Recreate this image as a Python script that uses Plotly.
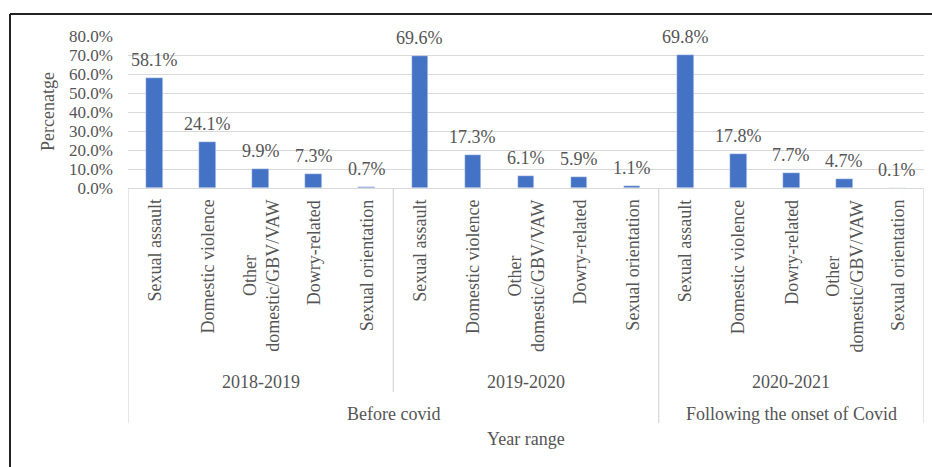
import plotly.graph_objects as go

# ---------------- data ----------------
years = ["2018-2019", "2019-2020", "2020-2021"]
periods = ["Before covid", "Before covid", "Following the onset of Covid"]

categories_2018_2019 = ["Sexual assault", "Domestic violence", "Other<br>domestic/GBV/VAW",
                        "Dowry-related", "Sexual orientation"]
values_2018_2019 = [58.1, 24.1, 9.9, 7.3, 0.7]

categories_2019_2020 = ["Sexual assault", "Domestic violence", "Other<br>domestic/GBV/VAW",
                        "Dowry-related", "Sexual orientation"]
values_2019_2020 = [69.6, 17.3, 6.1, 5.9, 1.1]

categories_2020_2021 = ["Sexual assault", "Domestic violence", "Dowry-related",
                        "Other<br>domestic/GBV/VAW", "Sexual orientation"]
values_2020_2021 = [69.8, 17.8, 7.7, 4.7, 0.1]

y_ticks = [0, 10, 20, 30, 40, 50, 60, 70, 80]
y_title = "Percenatge"
x_title = "Year range"

# ---------------- layout constants ----------------
W, H = 932, 467
L, R, T, B = 128, 924, 36, 188          # plot area in pixels
FONT = "Liberation Serif"
TXT = "#555555"
GRID = "#d9d9d9"
BAR = "#4472C4"


def px_x(p):
    return (p - L) / (R - L)


def px_y(p):
    return (B - p) / (B - T)


groups = [categories_2018_2019, categories_2019_2020, categories_2020_2021]
group_vals = [values_2018_2019, values_2019_2020, values_2020_2021]

cats, vals, idx = [], [], []
group_bounds = []
i = 0
for g, v in zip(groups, group_vals):
    start = i
    for c, val in zip(g, v):
        cats.append(c)
        vals.append(val)
        idx.append(i)
        i += 1
    group_bounds.append((start, i - 1))

fig = go.Figure()
fig.add_trace(go.Bar(x=idx, y=vals, marker_color=BAR, width=0.315, showlegend=False,
                     hoverinfo="y"))

annotations = []
shapes = []

# data labels
for xi, v in zip(idx, vals):
    annotations.append(dict(x=xi, y=v, xref="x", yref="y", text=f"{v:.1f}%",
                            showarrow=False, yanchor="bottom", xanchor="center",
                            yshift=6, font=dict(family=FONT, size=18, color=TXT)))

# category labels (rotated)
for xi, c in zip(idx, cats):
    annotations.append(dict(x=xi, y=px_y(198), xref="x", yref="paper", text=c,
                            showarrow=False, textangle=-90, yanchor="top", xanchor="center",
                            align="center",
                            font=dict(family=FONT, size=18, color=TXT)))

# year labels
for (s, e), yr in zip(group_bounds, years):
    annotations.append(dict(x=(s + e) / 2, y=px_y(382), xref="x", yref="paper", text=yr,
                            showarrow=False, yanchor="middle", xanchor="center",
                            font=dict(family=FONT, size=18, color=TXT)))

# period labels
period_spans = []
for (s, e), p in zip(group_bounds, periods):
    if period_spans and period_spans[-1][2] == p:
        period_spans[-1][1] = e
    else:
        period_spans.append([s, e, p])
for s, e, p in period_spans:
    annotations.append(dict(x=(s + e) / 2, y=px_y(414), xref="x", yref="paper", text=p,
                            showarrow=False, yanchor="middle", xanchor="center",
                            font=dict(family=FONT, size=18, color=TXT)))

# axis titles
annotations.append(dict(x=0.5, y=px_y(439), xref="paper", yref="paper", text=x_title,
                        showarrow=False, yanchor="middle", xanchor="center",
                        font=dict(family=FONT, size=18, color=TXT)))
annotations.append(dict(x=px_x(48), y=0.5, xref="paper", yref="paper", text=y_title,
                        showarrow=False, yanchor="middle", xanchor="center", textangle=-90,
                        font=dict(family=FONT, size=18, color=TXT)))

# category box dividers
bounds = [group_bounds[0][0] - 0.5] + [e + 0.5 for s, e in group_bounds]
for k, bx in enumerate(bounds):
    long_line = True
    if 0 < k < len(bounds) - 1 and periods[k - 1] == periods[k]:
        long_line = False
    shapes.append(dict(type="line", xref="x", yref="paper", x0=bx, x1=bx, y0=0,
                       y1=px_y(423 if long_line else 392),
                       line=dict(color=GRID, width=1.3)))

# outer black frame (left and top visible)
shapes.append(dict(type="line", xref="paper", yref="paper",
                   x0=px_x(10), x1=px_x(940), y0=px_y(14), y1=px_y(14),
                   line=dict(color="#222222", width=2)))
shapes.append(dict(type="line", xref="paper", yref="paper",
                   x0=px_x(10), x1=px_x(10), y0=px_y(14), y1=px_y(480),
                   line=dict(color="#222222", width=2)))

fig.update_layout(
    width=W, height=H,
    margin=dict(l=L, r=W - R, t=T, b=H - B, autoexpand=False),
    paper_bgcolor="white", plot_bgcolor="white",
    font=dict(family=FONT, size=17, color=TXT),
    annotations=annotations, shapes=shapes,
    bargap=0,
)
fig.update_xaxes(range=[-0.5, len(idx) - 0.5], showticklabels=False, showgrid=False,
                 zeroline=False, showline=False, fixedrange=True)
fig.update_yaxes(range=[0, 80], tickvals=y_ticks, ticktext=[f"{v:.1f}%" for v in y_ticks],
                 showgrid=True, gridcolor=GRID, gridwidth=1.3, zeroline=True,
                 zerolinecolor=GRID, zerolinewidth=1.3, showline=False, ticks="",
                 ticklabelstandoff=14, tickfont=dict(family=FONT, size=17, color=TXT),
                 fixedrange=True)

fig.write_html("out.html", config={"displayModeBar": False},
               post_script="document.body.style.margin='0';document.body.style.overflow='hidden';")
